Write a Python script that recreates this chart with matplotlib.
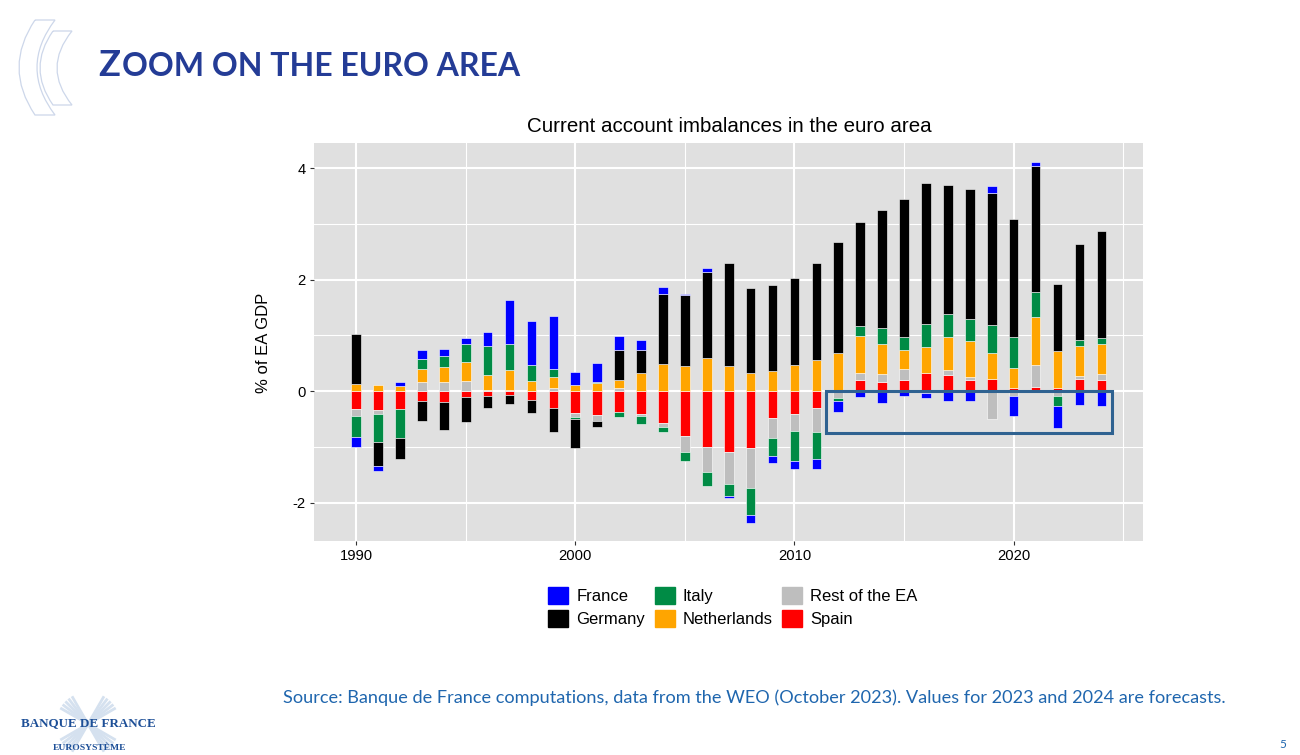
import numpy as np
import matplotlib.pyplot as plt
from matplotlib.patches import Patch, PathPatch, Rectangle
from matplotlib.path import Path

years = list(range(1990, 2025))

# order is the stacking order, starting from zero
spain = [-.33, -.34, -.33, -.18, -.19, -.11, -.08, -.07, -.16, -.30, -.40, -.43, -.38, -.41, -.58, -.80, -1.01, -1.09,
         -1.03, -.48, -.42, -.30, 0, .20, .17, .20, .32, .28, .19, .22, .06, .07, .05, .21, .20]
rest = [-.11, -.07, 0, .17, .17, .18, .01, .02, 0, .05, -.06, -.11, .05, -.04, -.07, -.30, -.44, -.57,
        -.71, -.37, -.30, -.44, -.13, .13, .13, .20, -.03, .10, .07, -.51, -.09, .40, -.09, .06, .10]
netherlands = [.13, .11, .09, .22, .26, .35, .28, .36, .18, .21, .10, .14, .15, .33, .49, .45, .59, .45,
               .33, .36, .46, .56, .68, .65, .54, .34, .47, .59, .63, .47, .35, .86, .66, .54, .54]
italy = [-.39, -.50, -.51, .19, .20, .32, .51, .47, .29, .14, -.04, .03, -.08, -.15, -.09, -.16, -.26, -.23,
         -.48, -.32, -.54, -.47, -.04, .19, .30, .23, .42, .42, .40, .50, .56, .44, -.17, .10, .12]
germany = [.90, -.43, -.37, -.35, -.50, -.44, -.22, -.17, -.23, -.44, -.53, -.11, .54, .41, 1.26, 1.27, 1.55, 1.84,
           1.51, 1.55, 1.56, 1.73, 2.00, 1.87, 2.10, 2.48, 2.52, 2.30, 2.33, 2.37, 2.11, 2.27, 1.21, 1.73, 1.92]
france = [-.18, -.10, .07, .16, .13, .10, .26, .79, .79, .94, .24, .33, .25, .17, .11, .03, .06, -.03,
          -.15, -.12, -.14, -.18, -.20, -.11, -.21, -.08, -.10, -.17, -.18, .12, -.35, .07, -.41, -.25, -.26]

series = [spain, rest, netherlands, italy, germany, france]
colors = ['#ff0000', '#bebebe', '#ffa500', '#008b45', '#000000', '#0000ff']

W, H = 1300, 755
plt.rcParams['font.family'] = ['Liberation Sans', 'DejaVu Sans']
fig = plt.figure(figsize=(W / 100, H / 100), dpi=100)

# chart
ax = fig.add_axes([314 / W, 1 - 541 / H, 829 / W, 398 / H])
ax.set_facecolor('#e0e0e0')
ax.set_xlim(1988.08, 2025.9)
ax.set_ylim(-2.69, 4.45)
for s in ax.spines.values():
    s.set_visible(False)
ax.set_axisbelow(True)
ax.set_xticks([1990, 2000, 2010, 2020])
ax.set_yticks([-2, 0, 2, 4])
ax.set_xticks([1995, 2005, 2015, 2025], minor=True)
ax.set_yticks([-1, 1, 3], minor=True)
ax.grid(which='major', color='white', lw=1.5)
ax.grid(which='minor', color='white', lw=0.8)
ax.tick_params(which='minor', length=0)
ax.tick_params(which='major', labelsize=10.6, length=3, width=0.8, color='#333333', pad=3)
ax.set_yticklabels(['-2', '0', '2', '4'])

pos = np.zeros(len(years))
neg = np.zeros(len(years))
for vals, c in zip(series, colors):
    vals = np.array(vals)
    bottom = np.where(vals >= 0, pos, neg)
    ax.bar(years, vals, bottom=bottom, width=0.44, color=c, edgecolor='white', linewidth=0.4)
    pos += np.clip(vals, 0, None)
    neg += np.clip(vals, None, 0)

ax.add_patch(Rectangle((2011.43, -0.75), 13.07, 0.75, fill=False, edgecolor='#2f6291', lw=2.2, zorder=5))

fig.text(729 / W, 1 - 126 / H, 'Current account imbalances in the euro area', fontsize=14.8,
         ha='center', va='center', color='black')
fig.text(263 / W, 1 - 343 / H, '% of EA GDP', fontsize=12, rotation=90, ha='center', va='center')

handles = [Patch(color=colors[5]), Patch(color=colors[4]), Patch(color=colors[3]),
           Patch(color=colors[2]), Patch(color=colors[1]), Patch(color=colors[0])]
labels = ['France', 'Germany', 'Italy', 'Netherlands', 'Rest of the EA', 'Spain']
fig.legend(handles, labels, ncol=3, frameon=False, fontsize=12, loc='center',
           bbox_to_anchor=(733 / W, 1 - 607 / H), handlelength=1.2, handleheight=1.2,
           handletextpad=0.5, columnspacing=0.55, labelspacing=0.32, borderpad=0, borderaxespad=0)

# slide furniture, in pixel coordinates
bg = fig.add_axes([0, 0, 1, 1], zorder=-1)
bg.set_xlim(0, W)
bg.set_ylim(H, 0)
bg.axis('off')


def crescent(x0, x1, top, bottom, bulge_out, bulge_in):
    mid = (top + bottom) / 2
    verts = [(x0, top), (x1, top), (2 * bulge_in - x1, mid), (x1, bottom), (x0, bottom),
             (2 * bulge_out - x0, mid), (x0, top)]
    codes = [Path.MOVETO, Path.LINETO, Path.CURVE3, Path.CURVE3, Path.LINETO, Path.CURVE3, Path.CURVE3]
    bg.add_patch(PathPatch(Path(verts, codes), fill=False, edgecolor='#cdd7ea', lw=0.9))


crescent(35, 55, 20, 115, 19, 37)
crescent(53, 72, 31, 105, 40, 57)

# logo star behind the name
for ang in np.linspace(30, 60, 5):
    for sign in (1, -1):
        dx = 32 * np.cos(np.radians(ang)) * sign
        dy = 32 * np.sin(np.radians(ang))
        bg.plot([88 - dx, 88 + dx], [724 - dy, 724 + dy], color='#d5e1ef', lw=2.0, solid_capstyle='butt')

serif = ['Liberation Serif', 'DejaVu Serif']
bg.text(21, 723, 'BANQUE DE FRANCE', fontsize=9.4, family=serif, color='#1d4f97', va='center', ha='left', weight='bold')
bg.text(89.5, 748, 'EUROSYSTÈME', fontsize=6.8, family=serif, color='#1d4f97', va='center', ha='center', weight='bold')

title_col = '#243c96'
bg.text(98, 76, 'Z', fontsize=26, family='Lato', weight='bold', color=title_col, va='baseline', ha='left')
bg.text(121.5, 76, 'OOM ON THE EURO AREA', fontsize=23, family='Lato', weight='bold', color=title_col,
        va='baseline', ha='left')

bg.text(283, 698, 'Source: Banque de France computations, data from the WEO (October 2023). Values for 2023 and 2024 are forecasts.',
        fontsize=13.05, family='Lato', color='#1f66ae', va='center', ha='left')
bg.text(1283, 744, '5', fontsize=8.5, family='Lato', color='#1f66ae', va='center', ha='center')

fig.savefig('out.png', dpi=100)
